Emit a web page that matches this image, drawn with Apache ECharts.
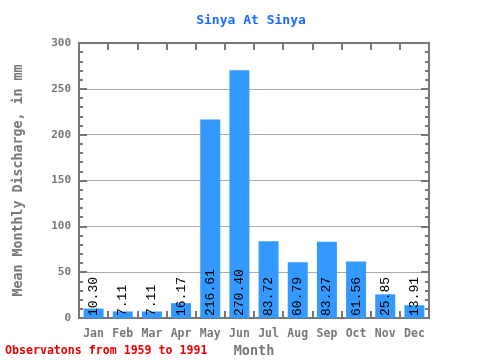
<!DOCTYPE html>
<html><head><meta charset="utf-8">
<script src="https://cdn.jsdelivr.net/npm/echarts@6/dist/echarts.min.js"></script>
<style>html,body{margin:0;padding:0;background:#fff}#c{width:480px;height:360px}</style>
</head><body><div id="c"></div>
<script>
var months = ['Jan','Feb','Mar','Apr','May','Jun','Jul','Aug','Sep','Oct','Nov','Dec'];
var discharge = [10.30, 7.11, 7.11, 16.17, 216.61, 270.40, 83.72, 60.79, 83.27, 61.56, 25.85, 13.91];
var yTicks = [0, 50, 100, 150, 200, 250, 300];

var chart = echarts.init(document.getElementById('c'));
var axisColor = '#777777';
var mono = '"DejaVu Sans Mono", "Liberation Mono", monospace';
chart.setOption({
  animation: false,
  title: {
    text: 'Sinya At Sinya', left: 246, top: 9, textAlign: 'center',
    textStyle: {color: '#1a6cff', fontFamily: mono, fontSize: 13, fontWeight: 'bold'}
  },
  graphic: [
    {type: 'text', left: 5, top: 345, style: {text: 'Observatons from 1959 to 1991', fill: '#ee0000', font: 'bold 11.6px ' + mono}}
  ],
  grid: {left: 79, right: 51, top: 43, bottom: 42, containLabel: false, outerBoundsMode: 'none'},
  xAxis: [{
    type: 'category', data: months, position: 'bottom',
    name: 'Month', nameLocation: 'middle', nameGap: 20,
    nameTextStyle: {color: axisColor, fontFamily: mono, fontSize: 13.5, fontWeight: 'bold'},
    axisLine: {show: true, onZero: false, lineStyle: {color: axisColor, width: 2}},
    axisTick: {show: true, inside: true, length: 7, interval: 0, lineStyle: {color: axisColor, width: 2}},
    axisLabel: {color: axisColor, fontFamily: mono, fontSize: 11.5, fontWeight: 'bold', margin: 10, interval: 0}
  }, {
    type: 'category', data: months, position: 'top',
    axisLine: {show: true, onZero: false, lineStyle: {color: axisColor, width: 2}},
    axisTick: {show: true, inside: true, length: 7, interval: 0, lineStyle: {color: axisColor, width: 2}},
    axisLabel: {show: false}
  }],
  yAxis: [{
    type: 'value', min: yTicks[0], max: yTicks[yTicks.length - 1], interval: 50, position: 'left',
    name: 'Mean Monthly Discharge, in mm', nameLocation: 'middle', nameGap: 54,
    nameTextStyle: {color: axisColor, fontFamily: mono, fontSize: 13.3, fontWeight: 'bold'},
    axisLine: {show: true, onZero: false, lineStyle: {color: axisColor, width: 2}},
    axisTick: {show: true, inside: true, length: 8, lineStyle: {color: axisColor, width: 2}},
    minorTick: {show: true, splitNumber: 5, length: 4, lineStyle: {color: axisColor, width: 2}},
    axisLabel: {color: axisColor, fontFamily: mono, fontSize: 11, fontWeight: 'bold', margin: 8},
    splitLine: {show: true, lineStyle: {color: '#aaaaaa', width: 1}}
  }, {
    type: 'value', min: yTicks[0], max: yTicks[yTicks.length - 1], interval: 50, position: 'right',
    axisLine: {show: true, onZero: false, lineStyle: {color: axisColor, width: 2}},
    axisTick: {show: true, inside: true, length: 8, lineStyle: {color: axisColor, width: 2}},
    minorTick: {show: true, splitNumber: 5, length: 4, lineStyle: {color: axisColor, width: 2}},
    axisLabel: {show: false},
    splitLine: {show: false}
  }],
  series: [{
    type: 'bar', data: discharge, barWidth: 20, xAxisIndex: 0, yAxisIndex: 0,
    itemStyle: {color: '#3399ff'},
    label: {
      show: true, position: 'insideBottom', rotate: 90, align: 'left', verticalAlign: 'middle',
      distance: 2, color: '#000', fontFamily: '"Liberation Mono", monospace', fontSize: 13,
      formatter: function (p) { return p.value.toFixed(2); }
    }
  }, {
    type: 'line', data: discharge, xAxisIndex: 1, yAxisIndex: 1, silent: true,
    showSymbol: false, lineStyle: {opacity: 0}, itemStyle: {opacity: 0}, z: 0
  }]
});
</script></body></html>
